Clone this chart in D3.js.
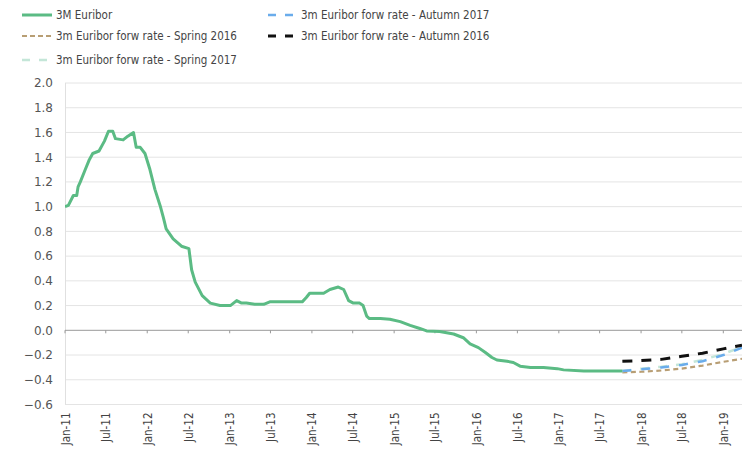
<!DOCTYPE html>
<html><head><meta charset="utf-8">
<script src="https://cdn.jsdelivr.net/npm/d3@7"></script>
<style>body{margin:0;background:#fff}svg{display:block}text{font-family:"DejaVu Sans",Verdana,sans-serif}</style>
</head><body><svg id="c" width="742" height="455"></svg>
<script>
// 3M Euribor (history)
const euriborDates = ["2011-01-01","2011-01-16","2011-02-07","2011-02-22","2011-02-28","2011-03-10","2011-04-01","2011-04-19","2011-05-04","2011-06-01","2011-06-25","2011-07-13","2011-08-01","2011-08-13","2011-09-16","2011-10-07","2011-11-01","2011-11-13","2011-12-01","2011-12-22","2012-01-13","2012-02-04","2012-02-27","2012-03-13","2012-03-25","2012-04-25","2012-06-01","2012-07-04","2012-07-16","2012-08-01","2012-09-01","2012-10-07","2012-11-19","2013-01-04","2013-02-01","2013-02-23","2013-03-16","2013-04-22","2013-06-01","2013-06-28","2013-08-13","2013-11-19","2013-12-07","2013-12-22","2014-01-22","2014-02-22","2014-03-22","2014-04-28","2014-05-22","2014-06-13","2014-07-04","2014-08-01","2014-08-16","2014-09-01","2014-09-13","2014-11-01","2014-12-13","2015-01-28","2015-03-13","2015-04-25","2015-05-25","2015-07-22","2015-09-22","2015-11-04","2015-12-04","2016-01-10","2016-02-10","2016-03-10","2016-04-01","2016-05-16","2016-06-13","2016-07-13","2016-08-28","2016-10-25","2016-12-25","2017-01-22","2017-04-22","2017-07-04","2017-10-10"];
const euriborValues = [1.00,1.01,1.09,1.09,1.16,1.20,1.30,1.38,1.43,1.45,1.53,1.61,1.61,1.55,1.54,1.57,1.60,1.48,1.48,1.43,1.30,1.14,1.01,0.91,0.82,0.74,0.68,0.66,0.49,0.39,0.28,0.22,0.20,0.20,0.24,0.22,0.22,0.21,0.21,0.23,0.23,0.23,0.265,0.30,0.30,0.30,0.33,0.35,0.33,0.24,0.22,0.22,0.20,0.115,0.095,0.095,0.09,0.07,0.04,0.015,-0.005,-0.01,-0.03,-0.06,-0.11,-0.14,-0.18,-0.22,-0.24,-0.25,-0.26,-0.29,-0.30,-0.30,-0.31,-0.32,-0.33,-0.33,-0.33];

// Forward rate curves
const forwDates = ["2017-10-10","2018-01-01","2018-04-01","2018-07-01","2018-10-01","2019-01-01","2019-03-25"];
const forwAutumn2017 = [-0.33,-0.315,-0.30,-0.28,-0.25,-0.20,-0.14];
const forwAutumn2016 = [-0.25,-0.245,-0.235,-0.21,-0.185,-0.15,-0.12];
const forwSpring2016 = [-0.34,-0.335,-0.325,-0.31,-0.285,-0.255,-0.23];
const forwSpring2017 = [-0.33,-0.31,-0.295,-0.275,-0.24,-0.19,-0.135];

const yTicks = [-0.6,-0.4,-0.2,0,0.2,0.4,0.6,0.8,1.0,1.2,1.4,1.6,1.8,2.0];
const xTickLabels = ["Jan-11","Jul-11","Jan-12","Jul-12","Jan-13","Jul-13","Jan-14","Jul-14","Jan-15","Jul-15","Jan-16","Jul-16","Jan-17","Jul-17","Jan-18","Jul-18","Jan-19"];

const parse = d3.timeParse("%Y-%m-%d");
const svg = d3.select("#c");
const L = 65, R = 742, T = 83, B = 404.5;

const x = d3.scaleTime().domain([parse("2011-01-01"), parse("2019-03-25")]).range([L, R]);
const y = d3.scaleLinear().domain([-0.6, 2.0]).range([B, T]);

// grid
svg.append("g").selectAll("line").data(yTicks.filter(v => v !== 0)).join("line")
  .attr("x1", L).attr("x2", R).attr("y1", d => y(d)).attr("y2", d => y(d))
  .attr("stroke", "#e4e4e4").attr("stroke-width", 1);

// left axis line
svg.append("line").attr("x1", L + 0.5).attr("x2", L + 0.5).attr("y1", T).attr("y2", B)
  .attr("stroke", "#e0e0e0");

// y labels
const yAxis = d3.axisLeft(y).tickValues(yTicks).tickFormat(d3.format(".1f")).tickSize(0).tickPadding(12);
const ya = svg.append("g").attr("transform", `translate(${L},0)`).call(yAxis);
ya.select(".domain").remove();
ya.selectAll("text").attr("fill", "#555").style("font-size", "12px").style("font-family", "DejaVu Sans, Verdana, sans-serif");

// zero axis with ticks
const xTickDates = xTickLabels.map(s => d3.timeParse("%b-%y")(s));
svg.append("line").attr("x1", L).attr("x2", R).attr("y1", y(0)).attr("y2", y(0)).attr("stroke", "#999");
svg.append("g").selectAll("line").data(xTickDates).join("line")
  .attr("x1", d => x(d)).attr("x2", d => x(d)).attr("y1", y(0)).attr("y2", y(0) + 3).attr("stroke", "#999");

// x labels
const xa = svg.append("g").attr("transform", `translate(0,${B})`)
  .call(d3.axisBottom(x).tickValues(xTickDates).tickFormat(d3.timeFormat("%b-%y")).tickSize(0).tickPadding(0));
xa.select(".domain").remove();
xa.selectAll("text").attr("transform", "rotate(-90)").attr("text-anchor", "end")
  .attr("x", -8).attr("y", 0).attr("dy", "0.35em").attr("fill", "#444")
  .style("font-size", "11.5px").style("font-family", "DejaVu Sans Condensed, DejaVu Sans, sans-serif");

const line = d3.line().x(d => x(d[0])).y(d => y(d[1]));
svg.append("clipPath").attr("id", "cp").append("rect").attr("x", L).attr("y", 0).attr("width", R - L).attr("height", 455);
const plot = svg.append("g").attr("clip-path", "url(#cp)");

const fd = forwDates.map(parse);
const series = [
  {vals: forwSpring2016, color: "#b89e74", w: 2.2, dash: "5,3.5"},
  {vals: forwSpring2017, color: "#c4e6d8", w: 2.5, dash: "9,9"},
  {vals: forwAutumn2017, color: "#6aaceb", w: 2.5, dash: "9,10"},
  {vals: forwAutumn2016, color: "#111111", w: 3, dash: "10,9"}
];
series.forEach(s => {
  plot.append("path").datum(fd.map((d, i) => [d, s.vals[i]])).attr("d", line)
    .attr("fill", "none").attr("stroke", s.color).attr("stroke-width", s.w).attr("stroke-dasharray", s.dash);
});
plot.append("path").datum(euriborDates.map((d, i) => [parse(d), euriborValues[i]])).attr("d", line)
  .attr("fill", "none").attr("stroke", "#5bbb84").attr("stroke-width", 3).attr("stroke-linejoin", "round");

// legend
const legend = [
  {label: "3M Euribor", color: "#5bbb84", w: 3, dash: null, x: 22, y: 15, lw: 30},
  {label: "3m Euribor forw rate - Spring 2016", color: "#b89e74", w: 2, dash: "5,3", x: 22, y: 36, lw: 30},
  {label: "3m Euribor forw rate - Spring 2017", color: "#c4e6d8", w: 2.5, dash: "8,9", x: 22, y: 60, lw: 25},
  {label: "3m Euribor forw rate - Autumn 2017", color: "#6aaceb", w: 2.5, dash: "8,9", x: 268, y: 15, lw: 25},
  {label: "3m Euribor forw rate - Autumn 2016", color: "#111111", w: 3, dash: "8,9", x: 268, y: 36, lw: 25}
];
const lg = svg.append("g").selectAll("g").data(legend).join("g");
lg.append("line").attr("x1", d => d.x).attr("x2", d => d.x + d.lw).attr("y1", d => d.y).attr("y2", d => d.y)
  .attr("stroke", d => d.color).attr("stroke-width", d => d.w).attr("stroke-dasharray", d => d.dash);
lg.append("text").attr("x", d => d.x === 22 ? 56 : 301).attr("y", d => d.y).attr("dy", "0.35em")
  .attr("fill", "#444").style("font-size", "11.5px")
  .style("font-family", "DejaVu Sans Condensed, DejaVu Sans, sans-serif").text(d => d.label);
</script></body></html>
